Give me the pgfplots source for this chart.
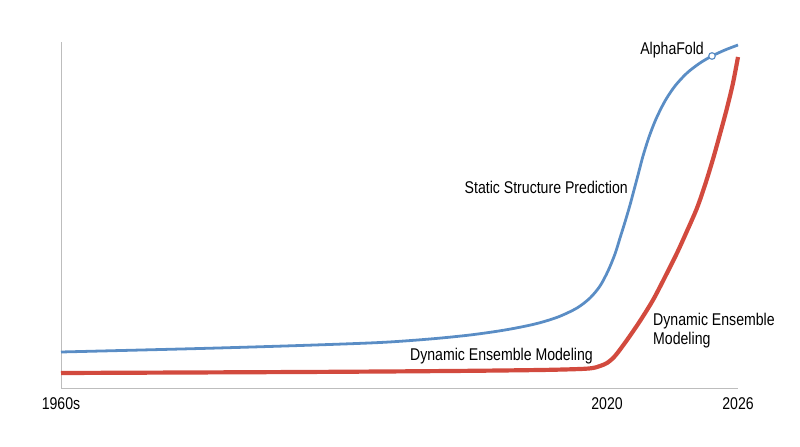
\documentclass[border=0pt]{standalone}
\usepackage{pgfplots}
\pgfplotsset{compat=1.18}
\usepackage{fontspec}
\setmainfont{Liberation Sans}[FakeStretch=0.83]

\definecolor{staticblue}{HTML}{5A8DC5}
\definecolor{dynred}{HTML}{D24A3E}
\definecolor{axisgray}{HTML}{BDBDBD}

% x and y are in picture pixels (y measured up from the x axis line)
\pgfplotstableread{
x y
61 36
200 39.5
300 42.5
380 45.5
430 49
470 53
505 58
535 64
558 71
577 80
590 90
600 102
608 117
615 134
620 150
625 166
630 183
634 198
638 213
643 232
649 251
656 269
665 287
675 302
687 315
700 325
712 332
725 338
738 343
}\staticdata

\pgfplotstableread{
x y
61 15
300 16
450 17
540 18
580 19
593 20
600 22
607 25
615 32
627 48
640 67
653 88
665 111
677 135
687 157
697 180
705 203
713 229
720 254
727 280
733 305
738 331
}\dynamicdata

\begin{document}
\fontsize{17bp}{19bp}\selectfont
\begin{tikzpicture}
\useasboundingbox (0,0) rectangle (800bp,447bp);
\begin{axis}[
    at={(61bp,59bp)}, anchor=south west,
    scale only axis,
    width=677bp, height=346bp,
    xmin=61, xmax=738,
    ymin=0, ymax=346,
    axis x line=bottom, axis y line=left,
    axis line style={-, draw=axisgray, line width=1pt},
    xtick={61,607,738},
    xticklabels={1960s,2020,2026},
    ytick=\empty,
    major tick length=0pt,
    xticklabel style={anchor=north, inner sep=0pt, yshift=-9bp,
        font=\fontsize{17bp}{19bp}\selectfont},
    clip=false,
]
\addplot[staticblue, line width=2.8pt, smooth] table[x=x, y=y] {\staticdata};
\addplot[dynred, line width=4.2pt, smooth] table[x=x, y=y] {\dynamicdata};
\addplot[only marks, mark=*, mark size=3.3pt, mark options={fill=white, draw=staticblue, line width=1.2pt}]
    coordinates {(712,332)};

\node[anchor=east, inner sep=0pt] at (axis cs:704,338) {AlphaFold};
\node[anchor=east, inner sep=0pt] at (axis cs:628,201) {Static Structure Prediction};
\node[anchor=east, inner sep=0pt] at (axis cs:593,32) {Dynamic Ensemble Modeling};
\node[anchor=north west, inner sep=0pt, align=left] at (axis cs:653,75)
    {Dynamic Ensemble\\Modeling};
\end{axis}
\end{tikzpicture}
\end{document}
